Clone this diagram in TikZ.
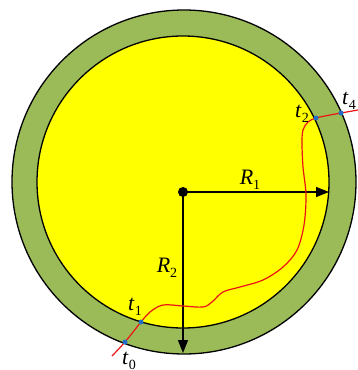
\documentclass[tikz,border=0pt]{standalone}
\usepackage{fontspec}
\setmainfont{Liberation Serif}
\usepackage{xcolor}
\usetikzlibrary{arrows.meta}

\definecolor{ringgreen}{RGB}{155,187,89}
\definecolor{coreyellow}{RGB}{255,255,0}
\definecolor{pathred}{RGB}{235,20,20}
\definecolor{hitblue}{RGB}{30,110,200}

\newcommand{\lbl}[2]{\textit{#1}\raisebox{-0.45ex}{\fontsize{14}{14}\selectfont #2}}

\tikzset{
  rim/.style={draw=black,line width=1.3pt},
  radius arrow/.style={line width=1.3pt,-{Triangle[length=13pt,width=10pt]}},
  walk/.style={draw=pathred,line width=1.2pt},
  hit/.style={circle,fill=hitblue,inner sep=0pt,minimum size=5pt},
  tag/.style={font=\fontsize{22}{24}\selectfont,inner sep=0pt}
}

\begin{document}
\begin{tikzpicture}[x=1pt,y=-1pt]
  \useasboundingbox (0,0) rectangle (358,370);
  % rings
  \filldraw[rim,fill=ringgreen] (184,182) circle (172);
  \filldraw[rim,fill=coreyellow] (183,182) circle (146);

  % radii
  \node[circle,fill=black,inner sep=0pt,minimum size=10pt] (ctr) at (183,192) {};
  \coordinate (r1end) at (329,192);
  \coordinate (r2end) at (183,353);
  \draw[radius arrow] (ctr.center) -- (r1end);
  \draw[radius arrow] (ctr.center) -- (r2end);
  \node[tag] (lr1) at (250,180) {\lbl{R}{1}};
  \node[tag] (lr2) at (167,268) {\lbl{R}{2}};

  % crossing points
  \coordinate (t0) at (125,342);
  \coordinate (t1) at (141,322);
  \coordinate (t2) at (316,118);
  \coordinate (t4) at (341,113);
  \draw[walk] plot[smooth,tension=0.55] coordinates {
    (112,356) (t0) (t1) (150,312) (163,305) (183,306) (203,307) (212,302)
    (223,292) (240,287) (263,280) (283,267) (297,250) (304,225) (306,195)
    (303,167) (302,143) (303,130) (308,122) (t2) (330,115) (t4) (358,110)};
  \foreach \p in {t0,t1,t2,t4}
    \node[hit] (d\p) at (\p) {};

  \node[tag] (lt0) at (129,361) {\lbl{t}{0}};
  \node[tag] (lt1) at (135,307) {\lbl{t}{1}};
  \node[tag] (lt2) at (302,114) {\lbl{t}{2}};
  \node[tag] (lt4) at (349,101) {\lbl{t}{4}};
\end{tikzpicture}
\end{document}
